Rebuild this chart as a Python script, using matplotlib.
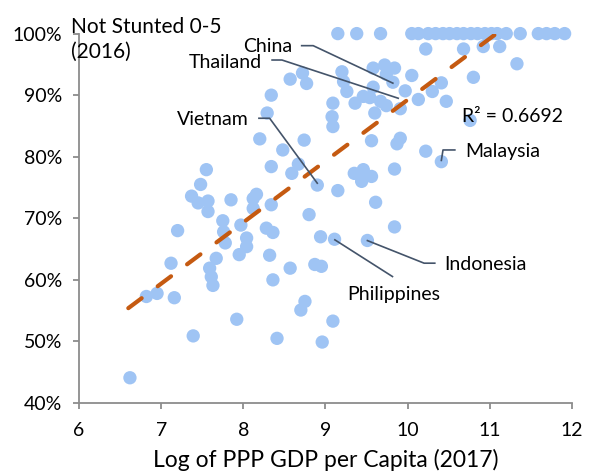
import numpy as np
import matplotlib
matplotlib.use("Agg")
import matplotlib.pyplot as plt

plt.rcParams['font.family'] = ['Lato', 'DejaVu Sans']

# log of PPP GDP per capita (2017) / share not stunted, ages 0-5 (2016)
top_x = [9.15, 9.38, 9.67, 10.05, 10.13, 10.25, 10.34, 10.43, 10.51, 10.60, 10.68,
         10.77, 10.85, 10.94, 11.02, 11.09, 11.20, 11.37, 11.59, 11.69, 11.79, 11.91]
top_y = [100.0] * len(top_x)

gdp_x = [10.22, 10.68, 10.92, 11.12, 11.33, 10.80, 9.72, 9.84, 9.74, 9.82,
         9.58, 10.05, 9.97, 10.41, 10.30, 10.13, 10.47, 9.91, 9.46, 9.54,
         9.58, 9.60, 9.67, 9.74, 9.36, 9.09, 9.20, 9.22, 9.26, 8.77,
         8.72, 8.57, 9.08, 9.09, 10.76, 8.34, 8.29, 8.20, 8.74, 8.48,
         9.56, 9.87, 9.91, 10.22, 10.41, 9.84, 9.35, 9.46, 9.56, 9.44,
         8.90, 9.15, 8.34, 8.67, 8.59, 7.55, 7.48, 7.37, 7.45, 7.57,
         7.57, 7.85, 8.12, 8.16, 8.12, 8.34, 7.75, 7.97, 7.76, 7.78,
         8.04, 8.04, 8.28, 8.36, 7.20, 7.95, 8.32, 7.67, 7.59, 7.61,
         7.63, 7.12, 6.82, 6.95, 7.16, 7.92, 7.39, 8.41, 6.62, 8.80,
         9.61, 9.84, 8.94, 9.11, 9.51, 8.57, 8.36, 8.87, 8.95, 8.75,
         8.70, 9.09, 8.96]
stunt_y = [97.5, 97.5, 97.9, 97.9, 95.1, 92.9, 94.9, 94.4, 93.4, 92.1,
           94.4, 93.2, 90.7, 92.0, 90.6, 89.3, 89.0, 87.8, 89.8, 89.6,
           91.3, 87.1, 89.0, 88.3, 88.7, 88.7, 93.8, 92.2, 90.6, 91.9,
           93.6, 92.6, 86.5, 84.9, 85.9, 90.0, 87.1, 82.9, 82.7, 81.1,
           82.6, 82.1, 83.0, 80.9, 79.2, 78.0, 77.3, 77.9, 76.8, 76.0,
           75.4, 74.5, 78.4, 78.8, 77.3, 77.9, 75.5, 73.6, 72.5, 72.8,
           71.1, 73.0, 73.2, 73.9, 71.6, 72.2, 69.6, 68.9, 67.8, 66.0,
           66.8, 65.4, 68.4, 67.7, 68.0, 64.1, 64.0, 63.5, 61.9, 60.5,
           59.1, 62.7, 57.3, 57.8, 57.1, 53.6, 50.9, 50.5, 44.1, 70.6,
           72.6, 68.6, 67.0, 66.6, 66.4, 61.9, 60.0, 62.5, 62.2, 56.5,
           55.1, 53.3, 49.9]

# linear trend line as shown on the chart
trend_x = [6.6, 11.08]
trend_slope = 9.955
trend_intercept = -10.30
r2_text = "R² = 0.6692"

# country labels: text position, leader line path (elbow, then the point)
labels = ["China", "Thailand", "Vietnam", "Malaysia", "Indonesia", "Philippines"]
label_pos = [(8.60, 97.9), (8.22, 95.35), (8.06, 86.0), (10.70, 80.85), (10.44, 62.55), (9.26, 57.55)]
label_ha = ["right", "right", "right", "left", "left", "left"]
leader_x = [[8.71, 8.85, 9.82], [8.35, 8.47, 9.885], [8.19, 8.32, 8.90],
            [10.574, 10.43, 10.41], [10.33, 10.20, 9.51], [9.815, 9.114]]
leader_y = [[98.04, 98.04, 91.95], [95.71, 95.71, 89.5], [86.25, 86.25, 75.7],
            [81.1, 81.1, 79.4], [62.71, 62.71, 66.38], [60.54, 66.5]]

xticks = [6, 7, 8, 9, 10, 11, 12]
yticks = [40, 50, 60, 70, 80, 90, 100]

fig = plt.figure(figsize=(5.96, 4.73), dpi=100)
ax = fig.add_axes([79/596, 70/473, 493/596, 369.4/473])

ax.scatter(top_x + gdp_x, top_y + stunt_y, s=92, color='#9fc4f4',
           edgecolors='none', zorder=2, clip_on=False)

tx = np.array(trend_x)
ax.plot(tx, trend_slope*tx + trend_intercept, color='#c55a11', lw=3.0,
        dashes=(4, 4.8), dash_capstyle='round', zorder=3)

for i in range( len( labels ) ) :
	ax.plot(leader_x[i], leader_y[i], color='#44546a', lw=1.2, zorder=4)
	ax.text(label_pos[i][0], label_pos[i][1], labels[i], ha=label_ha[i], va='center',
	        fontsize=14, zorder=5)

ax.text(10.656, 86.6, r2_text, ha='left', va='center', fontsize=14, zorder=5)

ax.set_xlim(6, 12)
ax.set_ylim(40, 100)
ax.set_xticks(xticks)
ax.set_yticks(yticks)
ax.set_yticklabels([str(v) + '%' for v in yticks])
for side in ['top', 'right'] :
	ax.spines[side].set_visible(False)
for side in ['left', 'bottom'] :
	ax.spines[side].set_color('#8c8c8c')
	ax.spines[side].set_linewidth(1.3)
ax.tick_params(direction='out', length=4, width=1.3, color='#8c8c8c', labelsize=14)
ax.tick_params(axis='x', pad=10)
ax.tick_params(axis='y', pad=8)

ax.set_xlabel("Log of PPP GDP per Capita (2017)", fontsize=16.5, labelpad=7)
fig.text(71/596, 1 - 39/473, "Not Stunted 0-5\n(2016)", ha='left', va='center',
         fontsize=15, linespacing=1.3)

fig.savefig("out.png", dpi=100)
